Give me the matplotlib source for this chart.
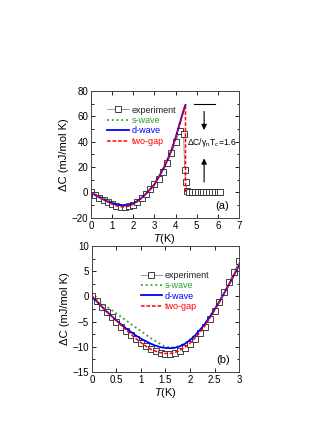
import numpy as np
import matplotlib
matplotlib.use('Agg')
import matplotlib.pyplot as plt
from matplotlib.ticker import MultipleLocator

plt.rcParams['font.family'] = ['Liberation Sans', 'DejaVu Sans']
plt.rcParams['font.size'] = 7
plt.rcParams['mathtext.fontset'] = 'custom'
plt.rcParams['mathtext.it'] = 'Liberation Sans:italic'
plt.rcParams['mathtext.rm'] = 'Liberation Sans'

# experiment, superconducting state (0.1 K steps)
T_exp = [0.0, 0.1, 0.2, 0.3, 0.4, 0.5, 0.6, 0.7, 0.8, 0.9,
         1.0, 1.1, 1.2, 1.3, 1.4, 1.5, 1.6, 1.7, 1.8, 1.9,
         2.0, 2.1, 2.2, 2.3, 2.4, 2.5, 2.6, 2.7, 2.8, 2.9,
         3.0, 3.1, 3.2, 3.3, 3.4, 3.5, 3.6, 3.7, 3.8, 3.9,
         4.0, 4.1, 4.2, 4.3]
dC_exp = [0.0, -1.0, -2.1, -3.1, -4.1, -5.1, -6.0, -6.9, -7.7, -8.5,
          -9.3, -9.9, -10.5, -10.9, -11.2, -11.4, -11.4, -11.2, -10.8, -10.2,
          -9.5, -8.5, -7.3, -6.0, -4.5, -2.9, -1.1, 0.8, 2.8, 4.9,
          7.0, 8.8, 11.0, 13.5, 16.5, 19.5, 23.0, 27.0, 31.0, 35.0,
          39.5, 44.0, 48.5, 52.5]
# experiment, transition + normal state
T_exp_n = [4.38, 4.43, 4.48, 4.54, 4.62, 4.76, 4.9, 5.04, 5.18, 5.32,
           5.46, 5.6, 5.74, 5.88, 6.02, 6.12]
dC_exp_n = [46.0, 18.0, 8.0, 1.5, 0.5, 0.5, 0.4, 0.5, 0.4, 0.5,
            0.3, 0.5, 0.4, 0.3, 0.5, 0.5]

# model curves
T_fit = [0.0, 0.1, 0.2, 0.3, 0.4, 0.5, 0.6, 0.7, 0.8, 0.9,
         1.0, 1.1, 1.2, 1.3, 1.4, 1.5, 1.6, 1.7, 1.8, 1.9,
         2.0, 2.1, 2.2, 2.3, 2.4, 2.5, 2.6, 2.7, 2.8, 2.9,
         3.0, 3.2, 3.4, 3.6, 3.8, 4.0, 4.2, 4.4, 4.47]
s_wave = [0.0, -0.6, -1.3, -2.0, -2.7, -3.4, -4.1, -4.8, -5.5, -6.2,
          -6.9, -7.6, -8.3, -8.9, -9.5, -10.0, -10.2, -10.1, -9.8, -9.3,
          -8.6, -7.7, -6.7, -5.5, -4.1, -2.6, -1.0, 0.7, 2.5, 4.3,
          6.2, 12.0, 18.0, 25.0, 33.0, 43.0, 54.5, 65.5, 68.5]
d_wave = [0.0, -1.0, -2.0, -3.0, -3.9, -4.8, -5.6, -6.4, -7.1, -7.8,
          -8.4, -8.9, -9.4, -9.8, -10.1, -10.25, -10.3, -10.2, -9.9, -9.4,
          -8.7, -7.8, -6.7, -5.5, -4.1, -2.6, -1.0, 0.7, 2.5, 4.3,
          6.2, 12.0, 18.0, 25.0, 33.0, 43.0, 54.5, 66.0, 69.0]
two_gap = [0.0, -0.9, -1.9, -2.9, -3.9, -4.8, -5.8, -6.7, -7.6, -8.4,
           -9.2, -9.9, -10.5, -10.9, -11.2, -11.35, -11.35, -11.1, -10.7, -10.1,
           -9.3, -8.3, -7.2, -5.9, -4.4, -2.8, -1.1, 0.7, 2.5, 4.4,
           6.3, 12.0, 18.0, 25.0, 33.0, 43.0, 54.0, 65.5, 68.0]
Tc = 4.47

green = '#2ca02c'
blue = '#0000ff'
red = '#ff0000'


def style_ax(ax):
    ax.tick_params(which='both', direction='in', top=True, right=True, labelsize=7, pad=2)
    ax.tick_params(which='major', length=3, width=0.6)
    ax.tick_params(which='minor', length=1.8, width=0.6)
    for s in ax.spines.values():
        s.set_linewidth(0.7)
        s.set_color('#444444')


def draw(ax, T, dC, Tn, dCn):
    ax.plot(list(T) + list(Tn), list(dC) + list(dCn), 's-', color='#888888', lw=0.6,
            mfc='white', mec='#222222', mew=0.6, ms=3.8, label='experiment', zorder=2)
    ax.plot(T_fit, s_wave, ':', color=green, lw=1.3, label='s-wave', zorder=3)
    ax.plot(T_fit, d_wave, '-', color=blue, lw=1.3, label='d-wave', zorder=4)
    ax.plot(T_fit + [Tc], two_gap + [0.0], '--', color=red, lw=1.1,
            dashes=(2.4, 1.2), label='two-gap', zorder=5)


def add_legend(ax, anchor):
    leg = ax.legend(loc='upper left', bbox_to_anchor=anchor, frameon=False, fontsize=6.5,
                    handlelength=2.4, handletextpad=0.3, labelspacing=0.15, borderpad=0)
    for txt, c in zip(leg.get_texts(), ['#222222', green, blue, red]):
        txt.set_color(c)


fig = plt.figure(figsize=(3.27, 4.23), dpi=100)

# (a)
ax1 = fig.add_axes([0.278, 0.485, 0.453, 0.300])
draw(ax1, T_exp[::2], dC_exp[::2], T_exp_n, dC_exp_n)
ax1.set_xlim(0, 7)
ax1.set_ylim(-20, 80)
ax1.xaxis.set_major_locator(MultipleLocator(1))
ax1.yaxis.set_major_locator(MultipleLocator(20))
ax1.yaxis.set_minor_locator(MultipleLocator(10))
ax1.set_xlabel('$T$(K)', fontsize=8, labelpad=1)
ax1.set_ylabel('ΔC (mJ/mol K)', fontsize=8, labelpad=2)
style_ax(ax1)
add_legend(ax1, (0.08, 0.92))
ax1.plot([4.88, 5.87], [69.5, 69.5], color='black', lw=0.8)
ax1.annotate('', xy=(5.35, 47), xytext=(5.35, 66),
             arrowprops=dict(arrowstyle='-|>', color='black', lw=0.8, mutation_scale=8))
ax1.annotate('', xy=(5.35, 29), xytext=(5.35, 6),
             arrowprops=dict(arrowstyle='-|>', color='black', lw=0.8, mutation_scale=8))
ax1.text(4.55, 39.5, 'ΔC/γ$_\\mathrm{n}$T$_\\mathrm{c}$=1.6', fontsize=6.2, va='center')
ax1.text(6.2, -11, '(a)', fontsize=8, ha='center', va='center')

# (b)
ax2 = fig.add_axes([0.281, 0.121, 0.450, 0.297])
draw(ax2, T_exp, dC_exp, [], [])
ax2.set_xlim(0, 3)
ax2.set_ylim(-15, 10)
ax2.yaxis.set_major_locator(MultipleLocator(5))
ax2.yaxis.set_minor_locator(MultipleLocator(2.5))
ax2.set_xticks([0, 0.5, 1, 1.5, 2, 2.5, 3])
ax2.set_xticklabels(['0', '0.5', '1', '1.5', '2', '2.5', '3'])
ax2.set_xlabel('$T$(K)', fontsize=8, labelpad=1)
ax2.set_ylabel('ΔC (mJ/mol K)', fontsize=8, labelpad=2)
style_ax(ax2)
add_legend(ax2, (0.3, 0.84))
ax2.text(2.67, -12.6, '(b)', fontsize=8, ha='center', va='center')

fig.savefig('out.png', dpi=100)
